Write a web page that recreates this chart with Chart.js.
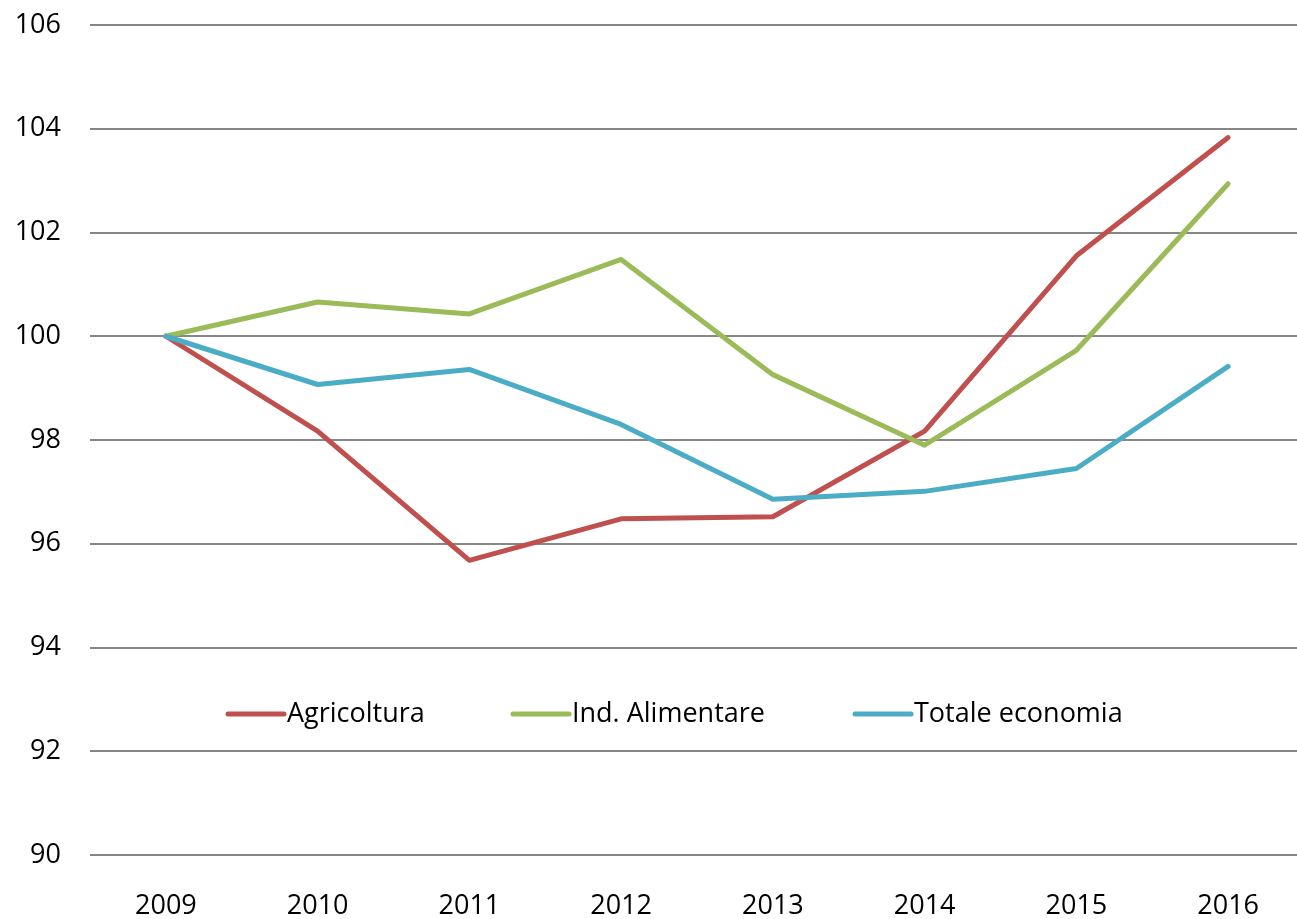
<!DOCTYPE html>
<html>
<head>
<meta charset="utf-8">
<script src="https://cdn.jsdelivr.net/npm/chart.js@4/dist/chart.umd.min.js"></script>
<style>
  html, body { margin: 0; padding: 0; background: #fff; overflow: hidden; }
  #wrap { width: 1304px; height: 919px; }
</style>
</head>
<body>
<div id="wrap"><canvas id="chart" width="1304" height="919"></canvas></div>
<script>
const years = ['2009', '2010', '2011', '2012', '2013', '2014', '2015', '2016'];
const agricoltura = [100, 98.17, 95.68, 96.48, 96.52, 98.17, 101.55, 103.83];
const alimentare = [100, 100.66, 100.43, 101.48, 99.26, 97.90, 99.73, 102.94];
const totale = [100, 99.07, 99.36, 98.30, 96.86, 97.01, 97.45, 99.42];
const yTicks = [90, 92, 94, 96, 98, 100, 102, 104, 106];

const FONT = "'Open Sans', sans-serif";
const LINE_W = 5;

// legend drawn inside the plot area, like the original
const innerLegend = {
    id: 'innerLegend',
    afterDraw(chart) {
        const ctx = chart.ctx;
        const starts = [228, 513, 855];
        const y = 714;
        ctx.save();
        ctx.font = '27px ' + FONT;
        ctx.textBaseline = 'middle';
        ctx.textAlign = 'left';
        ctx.lineCap = 'round';
        ctx.lineWidth = LINE_W;
        chart.data.datasets.forEach((ds, i) => {
            const x = starts[i];
            ctx.strokeStyle = ds.borderColor;
            ctx.beginPath();
            ctx.moveTo(x, y);
            ctx.lineTo(x + 56, y);
            ctx.stroke();
            ctx.fillStyle = '#000';
            ctx.fillText(ds.label, x + 59, y);
        });
        ctx.restore();
    }
};

function series(label, data, color, order) {
    return {
        label: label,
        data: data,
        borderColor: color,
        backgroundColor: color,
        borderWidth: LINE_W,
        borderCapStyle: 'round',
        borderJoinStyle: 'round',
        tension: 0,
        fill: false,
        pointRadius: 0,
        pointHoverRadius: 0,
        order: order
    };
}

const ctx = document.getElementById('chart').getContext('2d');
new Chart(ctx, {
    type: 'line',
    data: {
        labels: years,
        datasets: [
            series('Agricoltura', agricoltura, '#C0504D', 2),
            series('Ind. Alimentare', alimentare, '#9BBB59', 1),
            series('Totale economia', totale, '#4BACC6', 0)
        ]
    },
    options: {
        responsive: false,
        animation: false,
        devicePixelRatio: 1,
        layout: { padding: { top: 25, right: 0, bottom: 0, left: 0 } },
        plugins: {
            legend: { display: false },
            tooltip: { enabled: false }
        },
        scales: {
            x: {
                offset: true,
                grid: { display: false, drawTicks: false },
                border: { display: false },
                ticks: { color: '#000', font: { family: FONT, size: 27 }, padding: 35, maxRotation: 0 },
                afterFit(scale) { scale.height = 64; }
            },
            y: {
                min: 90,
                max: 106,
                grid: { color: '#878787', lineWidth: 2, drawTicks: false },
                border: { display: false },
                afterBuildTicks(scale) { scale.ticks = yTicks.map(v => ({ value: v })); },
                ticks: { color: '#000', font: { family: FONT, size: 27 }, padding: 29 },
                afterFit(scale) {
                    scale.width = 90;
                    // tick padding would otherwise push the top gridline down
                    scale.paddingTop = 0;
                    scale.paddingBottom = 0;
                }
            }
        }
    },
    plugins: [innerLegend]
});
</script>
</body>
</html>
